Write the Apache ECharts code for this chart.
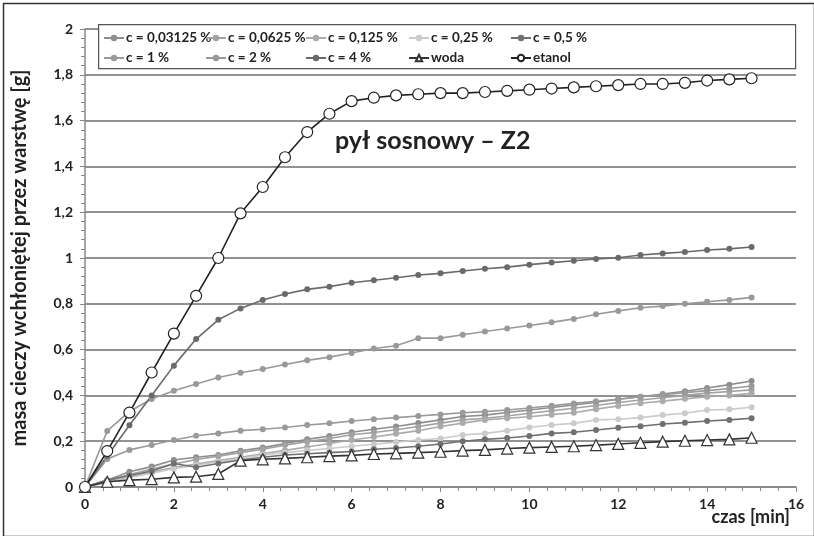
<!DOCTYPE html>
<html>
<head>
<meta charset="utf-8">
<script src="https://cdn.jsdelivr.net/npm/echarts@6/dist/echarts.min.js"></script>
<style>
  html, body { margin: 0; padding: 0; background: #fff; }
  #chart { width: 814px; height: 536px; }
</style>
</head>
<body>
<div id="chart"></div>
<script>
// czas [min], co 0,5 min
const czas = [0, 0.5, 1, 1.5, 2, 2.5, 3, 3.5, 4, 4.5, 5, 5.5, 6, 6.5, 7, 7.5, 8, 8.5, 9, 9.5, 10, 10.5, 11, 11.5, 12, 12.5, 13, 13.5, 14, 14.5, 15];

const c003125 = [0, 0.03, 0.067, 0.089, 0.118, 0.13, 0.14, 0.158, 0.172, 0.19, 0.208, 0.223, 0.239, 0.252, 0.264, 0.279, 0.293, 0.308, 0.314, 0.325, 0.336, 0.347, 0.358, 0.37, 0.383, 0.394, 0.406, 0.418, 0.432, 0.447, 0.463];
const c00625 = [0, 0.025, 0.055, 0.078, 0.1, 0.12, 0.135, 0.15, 0.165, 0.183, 0.198, 0.212, 0.228, 0.238, 0.25, 0.264, 0.279, 0.293, 0.3, 0.31, 0.322, 0.333, 0.344, 0.356, 0.369, 0.38, 0.39, 0.4, 0.41, 0.417, 0.424];
const c0125 = [0, 0.02, 0.045, 0.065, 0.085, 0.1, 0.115, 0.13, 0.145, 0.16, 0.175, 0.19, 0.205, 0.218, 0.232, 0.246, 0.264, 0.279, 0.293, 0.3, 0.307, 0.316, 0.324, 0.34, 0.354, 0.366, 0.375, 0.385, 0.394, 0.4, 0.409];
const c025 = [0, 0.02, 0.04, 0.06, 0.08, 0.095, 0.11, 0.125, 0.14, 0.15, 0.16, 0.168, 0.178, 0.187, 0.196, 0.205, 0.212, 0.227, 0.234, 0.246, 0.26, 0.271, 0.278, 0.293, 0.296, 0.303, 0.314, 0.322, 0.336, 0.339, 0.348];
const c05 = [0, 0.03, 0.05, 0.07, 0.103, 0.086, 0.103, 0.118, 0.13, 0.14, 0.145, 0.15, 0.155, 0.165, 0.17, 0.178, 0.188, 0.2, 0.208, 0.214, 0.223, 0.234, 0.239, 0.249, 0.259, 0.265, 0.275, 0.281, 0.288, 0.293, 0.3];
const c1 = [0, 0.122, 0.162, 0.183, 0.205, 0.224, 0.234, 0.246, 0.252, 0.26, 0.271, 0.278, 0.288, 0.296, 0.303, 0.31, 0.317, 0.324, 0.329, 0.336, 0.345, 0.355, 0.365, 0.374, 0.383, 0.394, 0.403, 0.412, 0.421, 0.43, 0.441];
const c2 = [0, 0.245, 0.33, 0.384, 0.42, 0.45, 0.478, 0.499, 0.515, 0.535, 0.553, 0.567, 0.585, 0.605, 0.617, 0.65, 0.65, 0.665, 0.679, 0.692, 0.705, 0.719, 0.734, 0.754, 0.769, 0.783, 0.79, 0.8, 0.809, 0.817, 0.828];
const c4 = [0, 0.135, 0.27, 0.4, 0.53, 0.646, 0.73, 0.78, 0.817, 0.843, 0.863, 0.875, 0.892, 0.903, 0.914, 0.926, 0.933, 0.943, 0.953, 0.96, 0.971, 0.98, 0.988, 0.996, 1.001, 1.013, 1.02, 1.026, 1.035, 1.04, 1.048];
const woda = [0, 0.023, 0.03, 0.034, 0.042, 0.045, 0.057, 0.115, 0.121, 0.125, 0.13, 0.135, 0.138, 0.144, 0.147, 0.15, 0.154, 0.159, 0.162, 0.168, 0.172, 0.175, 0.178, 0.183, 0.188, 0.193, 0.198, 0.202, 0.205, 0.208, 0.215];
const etanol = [0, 0.157, 0.325, 0.5, 0.67, 0.835, 1.0, 1.195, 1.31, 1.44, 1.55, 1.63, 1.685, 1.7, 1.71, 1.715, 1.72, 1.72, 1.725, 1.73, 1.735, 1.74, 1.745, 1.75, 1.755, 1.76, 1.76, 1.765, 1.775, 1.78, 1.785];

const names = ["c = 0,03125 %", "c = 0,0625 %", "c = 0,125 %", "c = 0,25 %", "c = 0,5 %",
               "c = 1 %", "c = 2 %", "c = 4 %", "woda", "etanol"];
const values = [c003125, c00625, c0125, c025, c05, c1, c2, c4, woda, etanol];
const colors = ["#8e8e8e", "#a2a2a2", "#ababab", "#cbcbcb", "#707070",
                "#9a9a9a", "#999999", "#6a6a6a", "#333333", "#222222"];

const fontFam = "Lato, 'Open Sans', sans-serif";
const pair = (arr) => czas.map((t, i) => [t, arr[i]]);

let chart = echarts.init(document.getElementById("chart"));

let series = values.map((arr, i) => {
  let s = {
    name: names[i],
    type: "line",
    data: pair(arr),
    symbol: "circle",
    symbolSize: 6,
    z: 2,
    lineStyle: { color: colors[i], width: 1.6 },
    itemStyle: { color: colors[i] }
  };
  if (names[i] === "woda") {
    s.symbol = "triangle";
    s.symbolSize = 11;
    s.z = 4;
    s.itemStyle = { color: "#fff", borderColor: "#333", borderWidth: 1.2 };
  }
  if (names[i] === "etanol") {
    s.symbol = "circle";
    s.symbolSize = 11;
    s.z = 5;
    s.itemStyle = { color: "#fff", borderColor: "#222", borderWidth: 1.2 };
  }
  return s;
});

// legenda w 5 kolumnach, 2 wiersze
const colX = [98, 200, 300, 403, 505];
let legends = colX.map((x, i) => ({
  orient: "vertical",
  left: x,
  top: 26,
  itemGap: 6,
  itemWidth: 20,
  itemHeight: 8,
  data: [names[i], names[i + 5]],
  textStyle: { fontFamily: fontFam, fontSize: 13.5, fontWeight: 700, color: "#222", padding: [0, 0, 0, -3] },
  selectedMode: false
}));

chart.setOption({
  animation: false,
  grid: { left: 85, right: 18, top: 29, bottom: 49 },
  legend: legends,
  xAxis: {
    type: "value",
    min: 0,
    max: 16,
    interval: 2,
    axisLine: { lineStyle: { color: "#888", width: 1.5 } },
    axisTick: { show: true, length: 5, lineStyle: { color: "#888" } },
    minorTick: { show: true, splitNumber: 5, length: 4, lineStyle: { color: "#888" } },
    splitLine: { show: false },
    axisLabel: { fontFamily: fontFam, fontSize: 14, fontWeight: 700, color: "#222", margin: 10 }
  },
  yAxis: {
    type: "value",
    min: 0,
    max: 2,
    interval: 0.2,
    name: "masa cieczy wchłoniętej przez warstwę [g]",
    nameLocation: "middle",
    nameGap: 55,
    nameTextStyle: { fontFamily: fontFam, fontSize: 20, fontWeight: 700, color: "#222" },
    axisLine: { show: true, lineStyle: { color: "#888", width: 1.5 } },
    axisTick: { show: true, length: 5, lineStyle: { color: "#888" } },
    minorTick: { show: true, splitNumber: 5, length: 4, lineStyle: { color: "#888" } },
    splitLine: { show: true, lineStyle: { color: "#6e6e6e", width: 1.5 } },
    axisLabel: {
      fontFamily: fontFam, fontSize: 14, fontWeight: 700, color: "#222", margin: 12,
      formatter: (v) => String(Math.round(v * 10) / 10).replace(".", ",")
    }
  },
  graphic: [
    { type: "rect", left: 1, top: 1, z: -10, shape: { width: 811, height: 533 },
      style: { fill: "none", stroke: "#333", lineWidth: 1.5 } },
    { type: "rect", left: 98, top: 24, z: 1, shape: { width: 697, height: 44 },
      style: { fill: "#fff", stroke: "#555", lineWidth: 1.2 } },
    { type: "text", left: 335, top: 128, z: 10,
      style: { text: "pył sosnowy – Z2", fontFamily: fontFam, fontSize: 25, fontWeight: 700, fill: "#222" } },
    { type: "text", right: 24, top: 508, z: 10,
      style: { text: "czas [min]", fontFamily: fontFam, fontSize: 18, fontWeight: 700, fill: "#222" } }
  ],
  series: series
});
</script>
</body>
</html>
